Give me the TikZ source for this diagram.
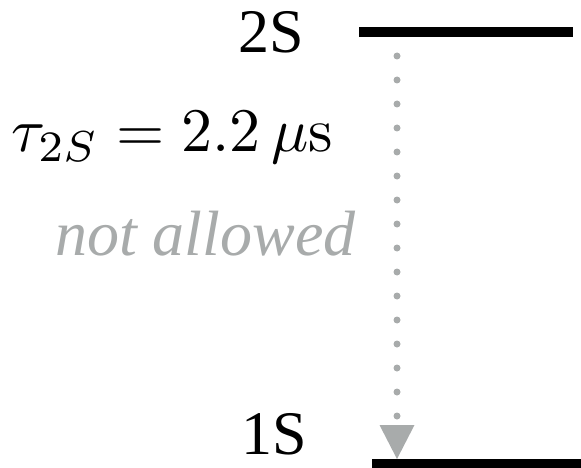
\documentclass[tikz,border=0pt]{standalone}
\usepackage[no-math]{fontspec}
\setmainfont{Liberation Serif}
\usetikzlibrary{arrows.meta}
\definecolor{forbidgray}{RGB}{168,171,171}
\begin{document}
\begin{tikzpicture}[x=1pt,y=-1pt,>=Stealth,
    statebar/.style={line width=10pt},
    lbl/.style={inner sep=0pt,anchor=base west,font=\fontsize{62}{70}\selectfont},
    forbidden/.style={forbidgray,line width=7pt,line cap=round,
      dash pattern=on 0pt off 24pt,
      -{Triangle[width=35pt,length=34pt,line width=0pt]}}]
  \useasboundingbox (0,0) rectangle (581,468);
  % the two levels
  \draw[statebar] (359,32) -- (573,32);
  \draw[statebar] (372,464) -- (600,464);
  % labels
  \node[lbl] (lbltwo) at (238,53) {2S};
  \node[lbl] (lblone) at (241,454) {1S};
  \node[inner sep=0pt,anchor=base west] (lbltau) at (11,152)
    {\scalebox{6.2}{$\tau_{2S} = 2.2\,\mu\mathrm{s}$}};
  \node[lbl,forbidgray,font=\fontsize{64}{72}\selectfont] (lblnot) at (55,255)
    {\itshape not allowed};
  % forbidden decay
  \coordinate (decaytop) at (397,56);
  \coordinate (decayend) at (397,459);
  \draw[forbidden] (decaytop) -- (decayend);
\end{tikzpicture}
\end{document}
